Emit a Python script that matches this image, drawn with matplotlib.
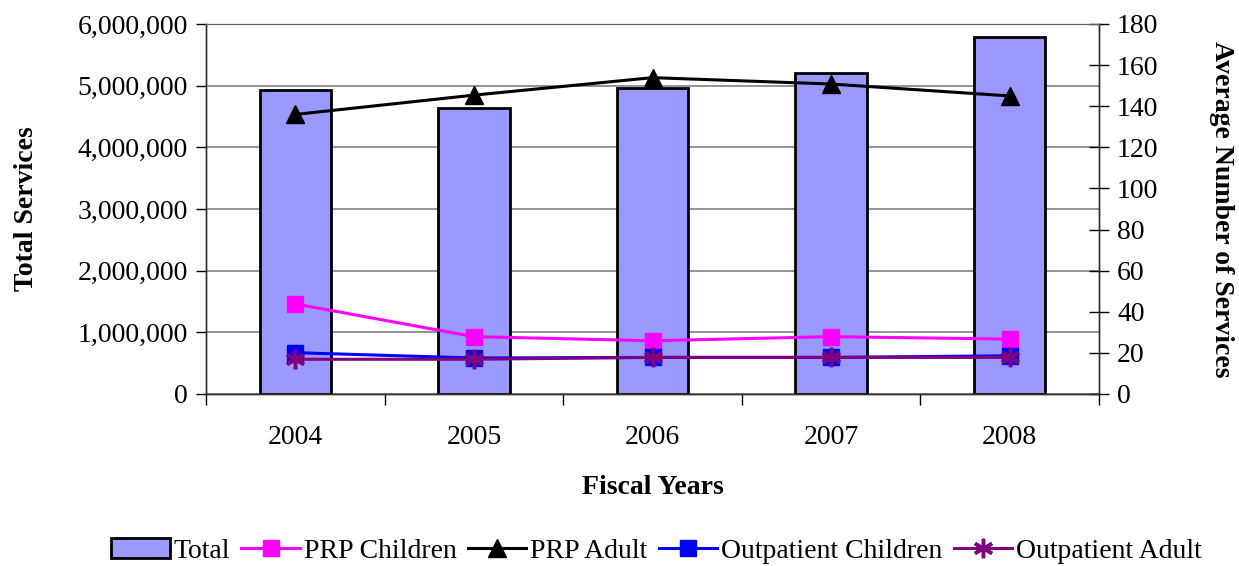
import matplotlib.pyplot as plt
from matplotlib.ticker import FuncFormatter, MultipleLocator

# fiscal years and service totals
years = ["2004", "2005", "2006", "2007", "2008"]
total_services = [4930000, 4640000, 4970000, 5200000, 5790000]

# average number of services per person
prp_children = [43.8, 27.9, 25.9, 27.9, 26.7]
prp_adult = [136.0, 145.4, 153.9, 150.8, 145.0]
outpatient_children = [20.1, 17.5, 17.8, 17.8, 18.6]
outpatient_adult = [16.9, 16.9, 17.8, 17.8, 17.8]

plt.rcParams["font.family"] = ["Liberation Serif", "DejaVu Serif"]
FS = 20

fig = plt.figure(figsize=(12.39, 5.66), dpi=100)
ax = fig.add_axes([0.1663, 0.3039, 0.7207, 0.6537])
ax2 = ax.twinx()

x = list(range(len(years)))
ax.set_axisbelow(True)
ax.yaxis.grid(True, color="#808080", linewidth=1.2)
bars = ax.bar(x, total_services, width=0.40, color="#9999FF",
              edgecolor="black", linewidth=2, label="Total", zorder=2)

ax.set_xlim(-0.5, len(years) - 0.5)
ax.set_ylim(0, 6000000)
ax.yaxis.set_major_locator(MultipleLocator(1000000))
ax.yaxis.set_major_formatter(FuncFormatter(lambda v, p: f"{int(v):,}"))
ax.set_xticks(x)
ax.set_xticklabels(years)
ax.set_xticks([i + 0.5 for i in range(-1, len(years))], minor=True)
ax.tick_params(axis="x", which="major", length=0, labelsize=FS, pad=22)
ax.tick_params(axis="x", which="minor", length=8, width=1, direction="out")
ax.tick_params(axis="y", length=7, width=1, direction="out", labelsize=FS, pad=6)

ax2.set_ylim(0, 180)
ax2.yaxis.set_major_locator(MultipleLocator(20))
ax2.tick_params(axis="y", length=14, width=1, direction="inout", labelsize=FS, pad=6)

l1, = ax2.plot(x, prp_children, color="#FF00FF", lw=2.2, marker="s", ms=12,
               label="PRP Children")
l2, = ax2.plot(x, prp_adult, color="black", lw=2.2, marker="^", ms=13,
               label="PRP Adult")
l3, = ax2.plot(x, outpatient_children, color="#0000FF", lw=2.2, marker="s", ms=12,
               label="Outpatient Children")
l4, = ax2.plot(x, outpatient_adult, color="#800080", lw=2.2, marker=(6, 2, 0), ms=14,
               mew=2.5, label="Outpatient Adult")

for a in (ax, ax2):
    a.spines["top"].set_color("#606060")
    for s in ("left", "right", "bottom"):
        a.spines[s].set_color("#303030")
        a.spines[s].set_linewidth(1)

ax.set_ylabel("Total Services", fontsize=FS, fontweight="bold", labelpad=28)
ax.set_xlabel("Fiscal Years", fontsize=FS, fontweight="bold", labelpad=18)
ax2.set_ylabel("Average Number of Services", fontsize=FS, fontweight="bold",
               rotation=270, labelpad=54)

fig.legend([bars, l1, l2, l3, l4],
           ["Total", "PRP Children", "PRP Adult", "Outpatient Children", "Outpatient Adult"],
           loc="lower center", bbox_to_anchor=(0.53, -0.04), ncol=5, frameon=False,
           fontsize=FS, handlelength=2.1, handletextpad=0.15, columnspacing=0.4)

fig.savefig("out.png", dpi=100)
